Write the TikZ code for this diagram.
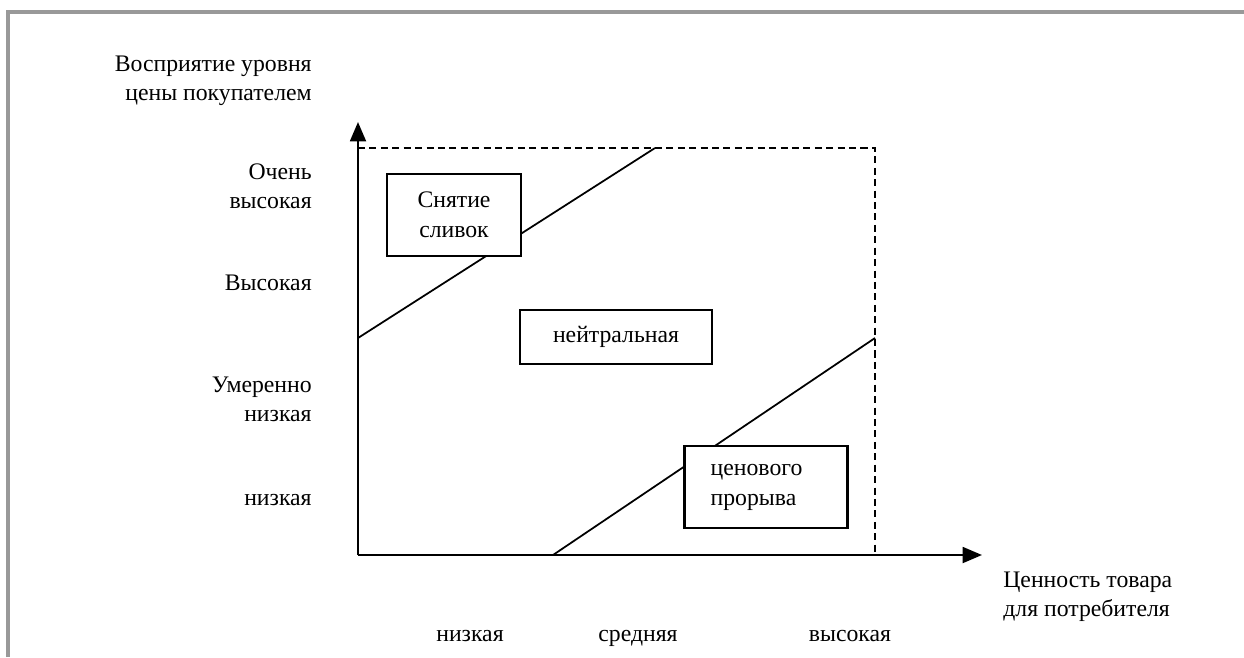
\documentclass[tikz,border=0pt]{standalone}
\usepackage{fontspec}
\setmainfont{Liberation Serif}
\usetikzlibrary{arrows.meta}
\tikzset{
  lbl/.style={font=\fontsize{13.5}{16.5}\selectfont, inner sep=0pt},
  zonebox/.style={draw, line width=1.3pt, fill=white, align=center, inner sep=0pt, font=\fontsize{13.5}{17}\selectfont},
  axis/.style={line width=1.4pt, -{Triangle[length=11pt,width=9pt]}},
  limit/.style={line width=1.2pt, dash pattern=on 4pt off 2.5pt},
}
\begin{document}
\begin{tikzpicture}[x=0.02cm,y=-0.02cm]
\useasboundingbox (0,0) rectangle (1244,657);
% outer frame (only left and top edges show)
\draw[gray!80, line width=2pt] (8,657) -- (8,12) -- (1244,12);

\coordinate (O) at (358,555); % origin
\coordinate (Ytip) at (358,122); % top of price axis
\coordinate (Xtip) at (982,555); % end of value axis
\coordinate (TL) at (358,148); % top left of dashed frame
\coordinate (TR) at (875,148); % top right of dashed frame
\coordinate (BR) at (875,555); % bottom right of dashed frame
\coordinate (A) at (358,338); % start of upper line
\coordinate (B) at (655,148); % end of upper line
\coordinate (C) at (553,555); % start of lower line
\coordinate (D) at (875,338); % end of lower line

%dashed limits
\draw[limit] (TL) -- (TR) -- (BR);

%boundary lines
\draw[line width=1pt] (A) -- (B);
\draw[line width=1pt] (C) -- (D);

%axes
\draw[axis] (O) -- (Ytip);
\draw[axis] (O) -- (Xtip);

%strategy boxes
\node[zonebox, minimum width=2.68cm, minimum height=1.64cm] (skim) at (454,215) {Снятие\\сливок};
\node[zonebox, minimum width=3.84cm, minimum height=1.08cm] (neutral) at (616,337) {нейтральная};
\node[zonebox, minimum width=3.26cm, minimum height=1.64cm, align=left] (breach) at (766,487) {ценового\\прорыва\hspace*{0.5cm}};

%price levels
\node[lbl, anchor=east, align=right] (ytitle) at (312,81) {Восприятие уровня\\цены покупателем};
\node[lbl, anchor=east, align=right] (vhigh) at (312,186) {Очень\\высокая};
\node[lbl, anchor=east] (high) at (312,283) {Высокая};
\node[lbl, anchor=east, align=right] (mlow) at (312,399) {Умеренно\\низкая};
\node[lbl, anchor=east] (low) at (312,500) {низкая};

%value levels
\node[lbl, anchor=base] (vlow) at (470,641) {низкая};
\node[lbl, anchor=base] (vmid) at (638,641) {средняя};
\node[lbl, anchor=base] (vtop) at (850,641) {высокая};
\node[lbl, anchor=west, align=left] (xtitle) at (1003,597) {Ценность товара\\для потребителя};
\end{tikzpicture}
\end{document}
